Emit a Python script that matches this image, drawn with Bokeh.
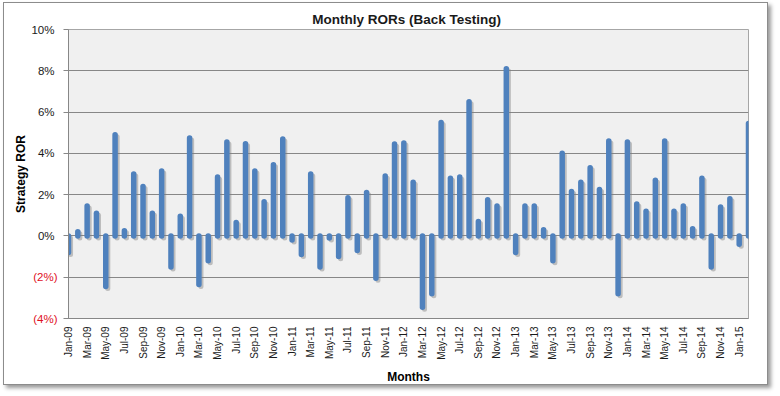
import math
from bokeh.plotting import figure
from bokeh.models import Range1d, FixedTicker, LinearAxis, ColumnDataSource
from bokeh.embed import file_html
from bokeh.resources import INLINE

MONTH_NAMES = ["Jan", "Feb", "Mar", "Apr", "May", "Jun",
               "Jul", "Aug", "Sep", "Oct", "Nov", "Dec"]
months = [f"{m}-{y:02d}" for y in range(9, 16) for m in MONTH_NAMES][:74]

# Monthly ROR in percent
ror = [
    -0.8, 0.2, 1.45, 1.1, -2.45, 4.9, 0.25, 3.0, 2.4, 1.1, 3.15, -1.5,      # 2009
    0.95, 4.75, -2.35, -1.2, 2.85, 4.55, 0.65, 4.47, 3.15, 1.65, 3.45, 4.7,  # 2010
    -0.2, -0.9, 3.0, -1.5, -0.1, -1.0, 1.85, -0.7, 2.1, -2.05, 2.9, 4.45,   # 2011
    4.5, 2.6, -3.45, -2.8, 5.5, 2.8, 2.85, 6.5, 0.7, 1.75, 1.45, 8.1,       # 2012
    -0.8, 1.45, 1.45, 0.3, -1.2, 4.0, 2.15, 2.6, 3.3, 2.25, 4.6, -2.8,      # 2013
    4.55, 1.55, 1.2, 2.7, 4.6, 1.2, 1.45, 0.35, 2.8, -1.5, 1.4, 1.8,        # 2014
    -0.4, 5.45,                                                           # 2015
]

y_ticks = [-4, -2, 0, 2, 4, 6, 8, 10]
y_tick_labels = ["(4%)", "(2%)", "0%", "2%", "4%", "6%", "8%", "10%"]

FONT = "Liberation Sans"
BAR = "#4F81BD"
GRID = "#878787"
RED = "#E0101E"

n = len(months)
xs = list(range(n))
src = ColumnDataSource(dict(
    x=xs,
    zero=[0.0] * n,
    ror=ror,
    sx=[v + 0.22 for v in xs],
    s0=[-0.1] * n,
    s1=[r - 0.1 for r in ror],
))

p = figure(
    width=765, height=383,
    x_range=Range1d(0, n - 1), y_range=Range1d(min(y_ticks), max(y_ticks)),
    output_backend="svg", toolbar_location=None,
    min_border_left=64, min_border_right=21, min_border_top=26, min_border_bottom=68,
    background_fill_color="#F0F0F0", border_fill_color="white",
    styles={"margin-left": "3px", "margin-top": "2px",
            "border": "1px solid #8C8C8C",
            "box-shadow": "3px 3px 4px #9A9A9A"},
)
p.outline_line_color = "#A6A6A6"

p.title.text = "Monthly RORs  (Back Testing)"
p.title.align = "center"
p.title.text_font = FONT
p.title.text_font_size = "13.5px"
p.title.text_font_style = "bold"
p.title.text_color = "#1A1A1A"
p.title.standoff = 6

# shadow then bars
p.segment(x0="sx", y0="s0", x1="sx", y1="s1", source=src,
          line_width=5, line_color="#7F7F7F", line_alpha=0.45, line_cap="round")
p.segment(x0="x", y0="zero", x1="x", y1="ror", source=src,
          line_width=5.5, line_color=BAR, line_cap="round")

# grid
p.xgrid.visible = False
p.ygrid.ticker = FixedTicker(ticks=y_ticks)
p.ygrid.grid_line_color = GRID
p.ygrid.grid_line_width = 1

# inner y axis: tick marks + red negative labels
ya = p.yaxis[0]
ya.ticker = FixedTicker(ticks=y_ticks)
ya.major_label_overrides = {t: (lab if t < 0 else "") for t, lab in zip(y_ticks, y_tick_labels)}
ya.major_label_text_font = FONT
ya.major_label_text_font_size = "11.5px"
ya.major_label_text_color = RED
ya.major_tick_out = 5
ya.major_tick_in = 0
ya.minor_tick_out = 0
ya.minor_tick_in = 0
ya.major_tick_line_color = GRID
ya.axis_line_color = GRID
ya.major_label_standoff = 6

# outer y axis: black non-negative labels pulled back onto the same column
ya2 = LinearAxis(
    ticker=FixedTicker(ticks=y_ticks),
    major_label_overrides={t: (lab if t >= 0 else "") for t, lab in zip(y_ticks, y_tick_labels)},
    major_label_text_font=FONT, major_label_text_font_size="11.5px",
    major_label_text_color="#1A1A1A",
    major_tick_out=0, major_tick_in=0, minor_tick_out=0, minor_tick_in=0,
    axis_line_color=None, major_tick_line_color=None, minor_tick_line_color=None,
    major_label_standoff=-24,
    axis_label="Strategy ROR", axis_label_text_font=FONT,
    axis_label_text_font_size="12px", axis_label_text_font_style="bold",
    axis_label_text_color="#000000", axis_label_standoff=0,
)
p.add_layout(ya2, "left")

# x axis
xa = p.xaxis[0]
xa.ticker = FixedTicker(ticks=xs[::2])
xa.major_label_overrides = {i: months[i] for i in xs[::2]}
xa.major_label_orientation = math.pi / 2
xa.major_label_text_font = FONT
xa.major_label_text_font_size = "10px"
xa.major_label_text_color = "#1A1A1A"
xa.major_label_standoff = 8
xa.major_tick_out = 0
xa.major_tick_in = 0
xa.minor_tick_out = 0
xa.minor_tick_in = 0
xa.axis_line_color = GRID
xa.axis_label = "Months"
xa.axis_label_text_font = FONT
xa.axis_label_text_font_size = "12px"
xa.axis_label_text_font_style = "bold"
xa.axis_label_text_color = "#000000"
xa.axis_label_standoff = 7

open("out.html", "w").write(file_html(p, INLINE))
